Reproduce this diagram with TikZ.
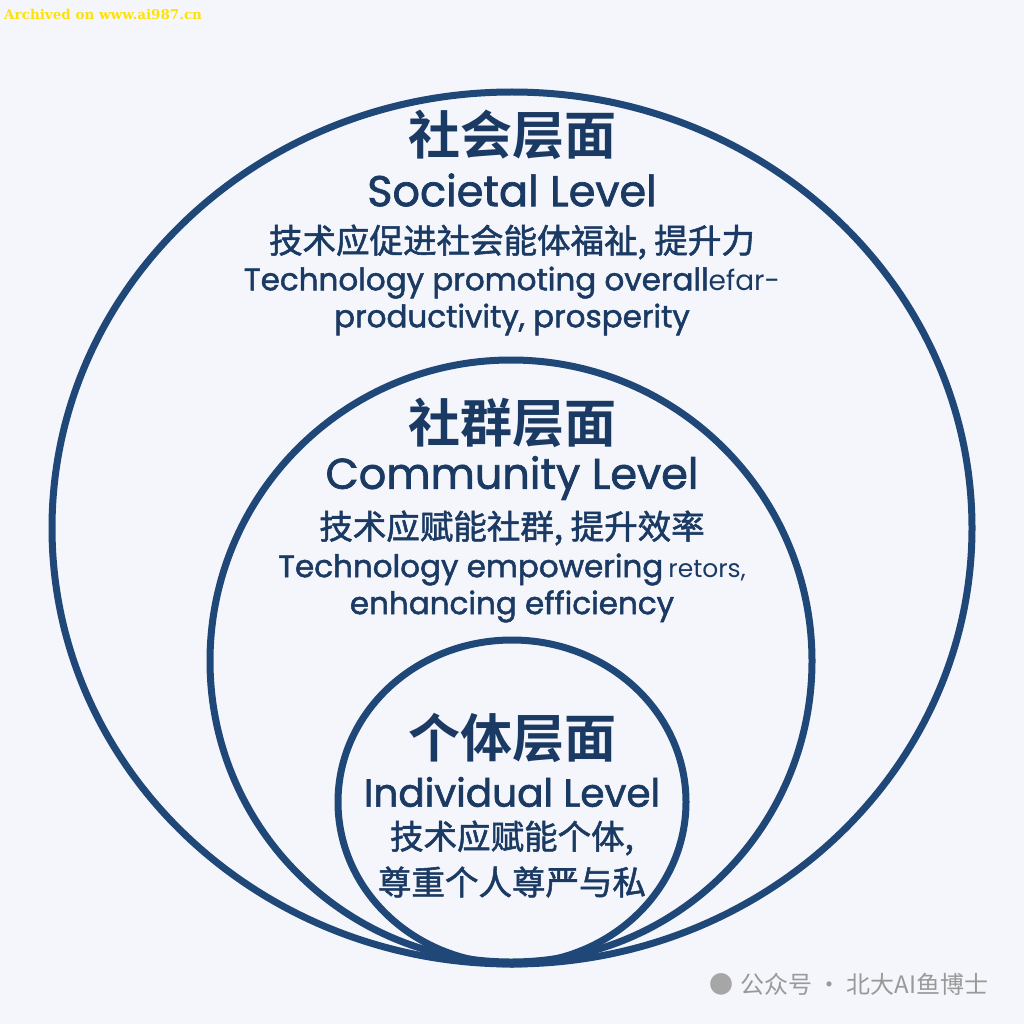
\documentclass[tikz,border=0pt]{standalone}
\usepackage{fontspec}
\setmainfont{Poppins}[BoldFont=Poppins,BoldFeatures={FakeBold=1.6}]
\newfontfamily\cjk{Noto Sans CJK SC}
\newfontfamily\cjkm{Noto Sans CJK SC}[FakeBold=1.6]
\newfontfamily\cjkb{Noto Sans CJK SC Bold}
\newfontfamily\wm{DejaVu Serif}
\definecolor{ring}{HTML}{1F4878}
\definecolor{txt}{HTML}{1B3A63}
\definecolor{bg}{HTML}{F4F6FB}
\begin{document}
\begin{tikzpicture}[x=1pt,y=-1pt,
  ringst/.style={draw=ring,line width=7pt},
  zh/.style={text=txt,font=\cjkb\fontsize{52}{56}\selectfont},
  en/.style={text=txt,font=\bfseries\fontsize{43}{46}\selectfont},
  zs/.style={text=txt,font=\cjkm\fontsize{33.5}{36}\selectfont},
  es/.style={text=txt,font=\bfseries\fontsize{31}{37}\selectfont,align=center}]
\fill[bg] (0,0) rectangle (1024,1024);
\useasboundingbox (0,0) rectangle (1024,1024);
\draw[ringst] (512,528) ellipse [x radius=460,y radius=436];
\draw[ringst] (511,661) circle [radius=301];
\draw[ringst] (512,802) ellipse [x radius=174,y radius=162];
\node[zh] (t1) at (512,135) {社会层面};
\node[en] (e1) at (512,190) {Societal Level};
\node[zs] (c1) at (512,242) {技术应促进社会能体福祉, 提升力};
\node[es] (d1) at (512,301) {Technology promoting overall{\mdseries\fontsize{28}{30}\selectfont efar-}\\productivity, prosperity};
\node[zh] (t2) at (512,423) {社群层面};
\node[en] (e2) at (512,478) {Community Level};
\node[zs] (c2) at (512,528) {技术应赋能社群, 提升效率};
\node[es] (d2) at (512,588) {Technology empowering\,{\mdseries\fontsize{25}{30}\selectfont retors,}\\enhancing efficiency};
\node[zh] (t3) at (512,738) {个体层面};
\node[en,font=\bfseries\fontsize{39}{42}\selectfont] (e3) at (512,792) {Individual Level};
\node[zs] (c3) at (512,838) {技术应赋能个体,};
\node[zs] (c4) at (512,882) {尊重个人尊严与私};
\node[text=gray!80,font=\cjk\fontsize{24}{26}\selectfont,anchor=east] (w) at (992,984) {公众号 · 北大AI鱼博士};
\node[text=gray!70,font=\cjk\fontsize{24}{26}\selectfont,anchor=east] (wi) at (w.west) {\char"25CF};
\node[anchor=west,font=\wm\bfseries\fontsize{13.5}{14}\selectfont,text=yellow!85!orange,inner sep=1pt] (a) at (3,14) {Archived on www.ai987.cn};
\end{tikzpicture}
\end{document}
